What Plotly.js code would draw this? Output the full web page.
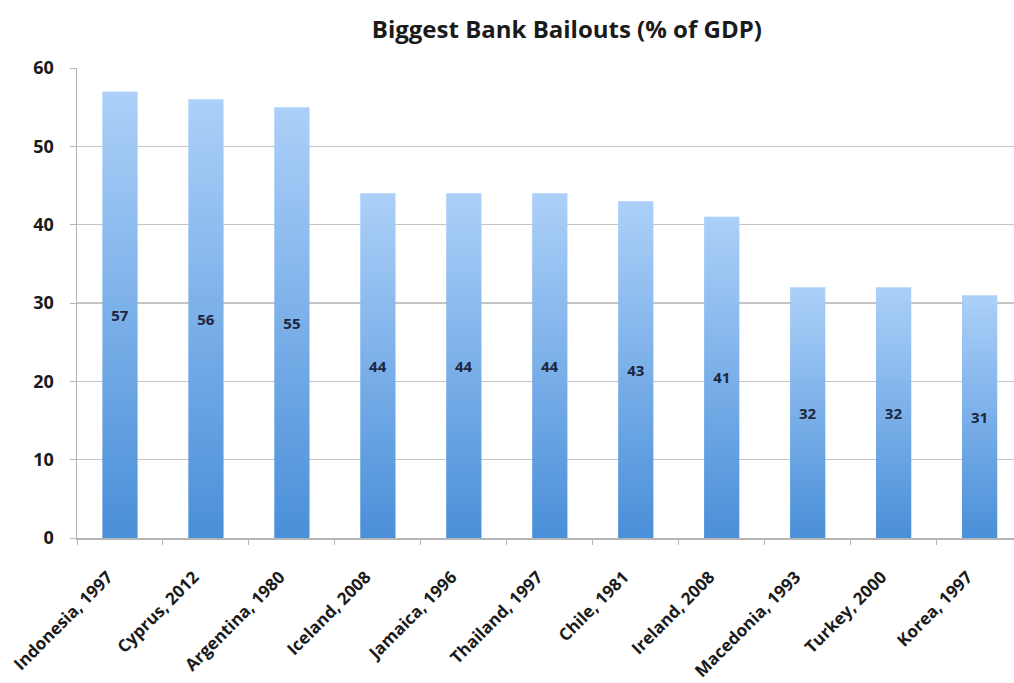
<!DOCTYPE html>
<html>
<head>
<meta charset="utf-8">
<script src="https://cdn.plot.ly/plotly-3.0.1.min.js"></script>
<style>html,body{margin:0;padding:0;background:#fff;}#chart{width:1014px;height:683px;}</style>
</head>
<body>
<div id="chart"></div>
<script>
const categories = ["Indonesia, 1997","Cyprus, 2012","Argentina, 1980","Iceland, 2008","Jamaica, 1996","Thailand, 1997","Chile, 1981","Ireland, 2008","Macedonia, 1993","Turkey, 2000","Korea, 1997"];
const values = [57,56,55,44,44,44,43,41,32,32,31];
const yTicks = [0,10,20,30,40,50,60];

const FONT = '"Open Sans", Lato, sans-serif';

const trace = {
  type: 'bar',
  x: categories,
  y: values,
  text: values.map(String),
  textposition: 'inside',
  insidetextanchor: 'middle',
  textangle: 0,
  textfont: {family: FONT, size: 15, color: '#1c2740', weight: 'bold'},
  marker: {color: '#79aee9', line: {width: 0}},
  width: 0.41,
  hoverinfo: 'none'
};

const layout = {
  width: 1014, height: 683,
  margin: {l: 77, r: 0, t: 68, b: 145},
  paper_bgcolor: '#ffffff', plot_bgcolor: '#ffffff',
  title: {text: 'Biggest Bank Bailouts (% of GDP)', x: 0.559, xanchor: 'center', y: 0.956, yanchor: 'middle',
          font: {family: FONT, size: 24, color: '#1a1a1a', weight: 'bold'}},
  showlegend: false,
  xaxis: {
    type: 'category', range: [-0.5, 10.4],
    tickangle: -45, ticks: 'outside', ticklen: 5, tickcolor: '#b5b5b5',
    tickson: 'boundaries',
    showline: true, linecolor: '#b5b5b5', linewidth: 1.5,
    showgrid: false, zeroline: false,
    ticklabelstandoff: 21,
    ticklabelshift: -12,
    tickfont: {family: FONT, size: 17, color: '#1a1a1a', weight: 'bold'}
  },
  yaxis: {
    range: [0, 60], tickvals: yTicks, ticktext: yTicks.map(String),
    ticks: 'outside', ticklen: 6, tickcolor: '#b5b5b5',
    showline: true, linecolor: '#b5b5b5', linewidth: 1.5,
    showgrid: true, gridcolor: '#c4c4c4', gridwidth: 1.5, zeroline: false,
    ticklabelstandoff: 12,
    tickfont: {family: FONT, size: 18, color: '#1a1a1a', weight: 'bold'}
  }
};

Plotly.newPlot('chart', [trace], layout, {displayModeBar: false, staticPlot: true}).then(function(gd){
  const svg = gd.querySelector('svg.main-svg');
  const ns = 'http://www.w3.org/2000/svg';
  let defs = svg.querySelector('defs');
  if (!defs) { defs = document.createElementNS(ns, 'defs'); svg.insertBefore(defs, svg.firstChild); }
  const grad = document.createElementNS(ns, 'linearGradient');
  grad.setAttribute('id', 'barGrad');
  grad.setAttribute('x1', '0'); grad.setAttribute('y1', '0');
  grad.setAttribute('x2', '0'); grad.setAttribute('y2', '1');
  [['0%', '#acd0f8'], ['100%', '#4a8fd9']].forEach(function(s){
    const st = document.createElementNS(ns, 'stop');
    st.setAttribute('offset', s[0]); st.setAttribute('stop-color', s[1]);
    grad.appendChild(st);
  });
  defs.appendChild(grad);
  gd.querySelectorAll('.barlayer .point path').forEach(function(p){
    p.style.fill = 'url(#barGrad)';
  });
});
</script>
</body>
</html>
